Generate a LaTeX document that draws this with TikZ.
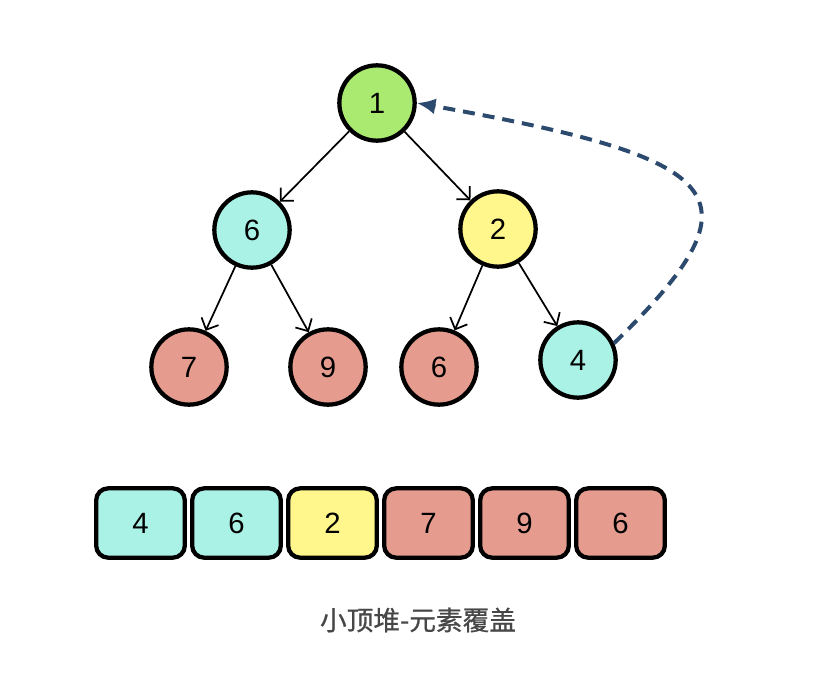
\documentclass[tikz,border=0pt]{standalone}
\usepackage{fontspec}
\setmainfont{Liberation Sans}
\newfontfamily\cjk[FakeBold=0.8]{Noto Sans CJK SC}
\usepackage{tikz}
\usetikzlibrary{arrows.meta, positioning}

\definecolor{hgreen}{RGB}{170,234,112}
\definecolor{hcyan}{RGB}{171,242,230}
\definecolor{hyellow}{RGB}{255,247,140}
\definecolor{hred}{RGB}{229,156,143}
\definecolor{hblue}{RGB}{44,74,110}

\begin{document}
\begin{tikzpicture}[x=0.75pt, y=-0.75pt,
		heapnode/.style={circle, draw=black, line width=3.2pt, minimum size=56.5pt, inner sep=0pt, font=\fontsize{22}{22}\selectfont},
		cell/.style={draw=black, line width=3.2pt, rounded corners=9pt, minimum width=66.5pt, minimum height=52pt, inner sep=0pt, font=\fontsize{22}{22}\selectfont},
		edge/.style={line width=1.3pt, -{Straight Barb[length=7pt, width=14pt]}},
		move/.style={hblue, line width=3pt, dash pattern=on 9pt off 6pt, -{Latex[length=14pt, width=12pt]}}]
		
		\useasboundingbox (0,0) rectangle (830,684);
		
		%//the heap as a tree
		\node [heapnode, fill=hgreen] (n1) at (377,103) {1};
		\node [heapnode, fill=hcyan] (n2) at (252,230) {6};
		\node [heapnode, fill=hyellow] (n3) at (498,229) {2};
		\node [heapnode, fill=hred] (n4) at (189,367) {7};
		\node [heapnode, fill=hred] (n5) at (328,367) {9};
		\node [heapnode, fill=hred] (n6) at (439,367) {6};
		\node [heapnode, fill=hcyan] (n7) at (578,360) {4};
		
		\foreach \a/\b in {n1/n2, n1/n3, n2/n4, n2/n5, n3/n6, n3/n7}
		\draw [edge] (\a) -- (\b);
		
		%//last element goes up to the top
		\draw [move] (n7.25) .. controls (767,194) and (728,159) .. (n1.east);
		
		%//the heap as an array
		\foreach \i/\val/\col in {0/4/hcyan, 1/6/hcyan, 2/2/hyellow, 3/7/hred, 4/9/hred, 5/6/hred}
		\node [cell, fill=\col] (c\i) at (140.5+96*\i, 523) {\val};
		
		\node [font=\cjk\fontsize{20}{20}\selectfont, text=black!72] (cap) at (418,620) {小顶堆-元素覆盖};
		
\end{tikzpicture}
\end{document}
